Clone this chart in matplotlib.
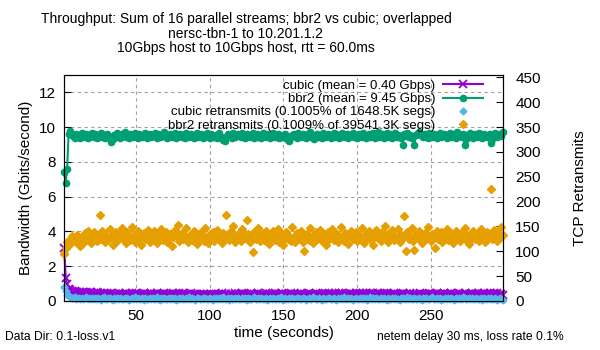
import matplotlib
matplotlib.use("Agg")
import matplotlib.pyplot as plt
from matplotlib.lines import Line2D

plt.rcParams['font.family'] = ['Liberation Sans', 'DejaVu Sans']

# time axis (seconds)
t = list(range(1, 300))

bbr2_gbps = [
    7.4, 6.8, 7.6, 9.6, 9.75, 9.55, 9.5, 9.4, 9.6, 9.45, 9.55, 9.4, 9.65, 9.5, 9.45, 9.6, 9.4, 9.55, 9.5, 9.65,
    9.45, 9.6, 9.4, 9.55, 9.5, 9.65, 9.45, 9.55, 9.4, 9.6, 9.5, 9.35, 9.15, 9.3, 9.55, 9.45, 9.65, 9.5, 9.4, 9.6,
    9.5, 9.7, 9.45, 9.55, 9.4, 9.6, 9.5, 9.45, 9.65, 9.55, 9.4, 9.6, 9.5, 9.45, 9.55, 9.65, 9.4, 9.5, 9.6, 9.45,
    9.55, 9.5, 9.65, 9.4, 9.6, 9.45, 9.55, 9.5, 9.7, 9.45, 9.35, 9.55, 9.6, 9.45, 9.5, 9.65, 9.4, 9.55, 9.5, 9.6,
    9.45, 9.55, 9.4, 9.65, 9.5, 9.45, 9.6, 9.55, 9.4, 9.5, 9.65, 9.45, 9.55, 9.6, 9.4, 9.5, 9.45, 9.65, 9.55, 9.4,
    9.6, 9.5, 9.45, 9.55, 9.4, 9.65, 9.5, 9.35, 9.25, 9.2, 9.45, 9.6, 9.5, 9.55, 9.4, 9.65, 9.45, 9.5, 9.6, 9.55,
    9.45, 9.65, 9.5, 9.4, 9.6, 9.55, 9.45, 9.5, 9.65, 9.4, 9.55, 9.6, 9.45, 9.5, 9.4, 9.65, 9.55, 9.45, 9.6, 9.5,
    9.4, 9.55, 9.65, 9.45, 9.5, 9.6, 9.4, 9.55, 9.5, 9.45, 9.6, 9.35, 9.25, 9.2, 9.45, 9.55, 9.6, 9.5, 9.4, 9.65,
    9.5, 9.45, 9.6, 9.55, 9.4, 9.5, 9.65, 9.7, 9.45, 9.55, 9.3, 9.5, 9.6, 9.45, 9.55, 9.4, 9.65, 9.5, 9.45, 9.6,
    9.55, 9.4, 9.5, 9.65, 9.45, 9.6, 9.5, 9.4, 9.55, 9.65, 9.45, 9.5, 9.6, 9.4, 9.55, 9.5, 9.65, 9.45, 9.55, 9.4,
    9.6, 9.5, 9.45, 9.65, 9.55, 9.4, 9.5, 9.6, 9.45, 9.55, 9.65, 9.4, 9.5, 9.7, 9.45, 9.55, 9.6, 9.4, 9.5, 9.65,
    9.45, 9.55, 9.6, 9.4, 9.5, 9.65, 9.45, 9.55, 9.5, 9.4, 8.95, 9.6, 9.5, 9.65, 9.45, 9.55, 9.4, 9.5, 8.95, 9.55,
    9.6, 9.7, 9.65, 9.5, 9.45, 9.6, 9.55, 9.4, 9.65, 9.5, 9.45, 9.6, 9.55, 9.4, 9.5, 9.65, 9.45, 9.55, 9.6, 9.5,
    9.4, 9.55, 9.65, 9.45, 9.5, 9.6, 9.4, 9.7, 9.55, 9.5, 9.45, 9.6, 8.95, 9.3, 9.55, 9.45, 9.65, 9.5, 9.4, 9.6,
    9.5, 9.45, 9.65, 9.55, 9.4, 9.6, 9.5, 9.45, 9.55, 9.6, 9.1, 9.3, 9.5, 9.65, 9.45, 9.55, 9.6, 9.5, 9.7,
]

cubic_gbps = [
    3.05, 1.35, 0.95, 0.7, 0.62, 0.55, 0.5, 0.56, 0.46, 0.52, 0.45, 0.53, 0.44, 0.5, 0.42, 0.49, 0.44, 0.48, 0.51, 0.43,
    0.47, 0.42, 0.5, 0.44, 0.4, 0.48, 0.43, 0.46, 0.4, 0.47, 0.41, 0.38, 0.44, 0.37, 0.43, 0.4, 0.36, 0.45, 0.39, 0.42,
    0.42, 0.36, 0.44, 0.39, 0.35, 0.41, 0.46, 0.37, 0.4, 0.44, 0.35, 0.42, 0.38, 0.4, 0.45, 0.36, 0.43, 0.35, 0.39, 0.44,
    0.37, 0.42, 0.4, 0.46, 0.35, 0.39, 0.43, 0.37, 0.45, 0.4, 0.34, 0.42, 0.39, 0.36, 0.44, 0.41, 0.35, 0.4, 0.46, 0.37,
    0.4, 0.44, 0.35, 0.42, 0.37, 0.4, 0.45, 0.34, 0.42, 0.39, 0.36, 0.34, 0.41, 0.35, 0.38, 0.43, 0.35, 0.4, 0.37, 0.35,
    0.41, 0.35, 0.38, 0.43, 0.34, 0.4, 0.37, 0.44, 0.35, 0.39, 0.42, 0.37, 0.35, 0.43, 0.4, 0.36, 0.45, 0.35, 0.39, 0.42,
    0.37, 0.44, 0.4, 0.35, 0.43, 0.37, 0.4, 0.46, 0.36, 0.42, 0.35, 0.39, 0.44, 0.37, 0.42, 0.4, 0.35, 0.44, 0.37, 0.4,
    0.43, 0.35, 0.4, 0.45, 0.37, 0.42, 0.39, 0.35, 0.44, 0.4, 0.36, 0.42, 0.35, 0.39, 0.45, 0.37, 0.43, 0.4, 0.35, 0.42,
    0.39, 0.44, 0.36, 0.42, 0.35, 0.4, 0.46, 0.37, 0.43, 0.39, 0.35, 0.44, 0.4, 0.36, 0.42, 0.35, 0.4, 0.45, 0.37, 0.42,
    0.44, 0.37, 0.42, 0.4, 0.47, 0.36, 0.42, 0.46, 0.39, 0.44, 0.37, 0.42, 0.4, 0.35, 0.45, 0.39, 0.42, 0.37, 0.46, 0.4,
    0.42, 0.46, 0.37, 0.44, 0.39, 0.47, 0.41, 0.36, 0.44, 0.4, 0.46, 0.42, 0.37, 0.44, 0.39, 0.35, 0.42, 0.46, 0.39, 0.44,
    0.37, 0.42, 0.4, 0.35, 0.44, 0.39, 0.36, 0.42, 0.35, 0.4, 0.45, 0.37, 0.42, 0.4, 0.35, 0.44, 0.37, 0.42, 0.4, 0.35,
    0.42, 0.37, 0.45, 0.4, 0.35, 0.42, 0.39, 0.37, 0.44, 0.4, 0.42, 0.35, 0.4, 0.45, 0.37, 0.42, 0.39, 0.35, 0.44, 0.4,
    0.37, 0.42, 0.4, 0.46, 0.36, 0.42, 0.39, 0.35, 0.44, 0.4, 0.37, 0.42, 0.46, 0.39, 0.35, 0.42, 0.37, 0.44, 0.4, 0.42,
    0.39, 0.44, 0.37, 0.42, 0.4, 0.46, 0.37, 0.42, 0.39, 0.44, 0.37, 0.42, 0.46, 0.39, 0.44, 0.36, 0.42, 0.4, 0.35,
]

cubic_retrans = [
    28, 20, 13, 10, 8, 7, 6, 8, 5, 7, 6, 4, 7, 5, 6, 8, 4, 6, 5, 7,
    5, 6, 4, 7, 5, 3, 6, 8, 5, 4, 6, 7, 5, 3, 6, 5, 7, 4, 6, 5,
    4, 6, 5, 7, 3, 5, 6, 4, 8, 5, 6, 4, 5, 7, 3, 6, 5, 4, 7, 5,
    6, 4, 5, 8, 5, 3, 6, 5, 7, 4, 5, 6, 4, 7, 5, 6, 3, 5, 6, 4,
    7, 5, 4, 6, 5, 8, 4, 6, 5, 3, 6, 7, 5, 4, 6, 5, 7, 4, 5, 6,
    5, 3, 6, 5, 7, 4, 6, 5, 8, 4, 5, 6, 3, 7, 5, 4, 6, 5, 7, 5,
    4, 6, 5, 7, 3, 6, 5, 4, 6, 8, 5, 4, 6, 5, 7, 4, 5, 6, 3, 5,
    6, 5, 7, 4, 5, 6, 4, 8, 5, 3, 6, 5, 4, 7, 5, 6, 4, 5, 7, 6,
    5, 4, 6, 7, 3, 5, 6, 4, 5, 8, 6, 4, 5, 7, 5, 3, 6, 5, 4, 6,
    7, 5, 4, 6, 5, 3, 7, 5, 6, 4, 8, 5, 4, 6, 5, 7, 3, 5, 6, 4,
    5, 6, 4, 7, 5, 6, 3, 5, 8, 4, 6, 5, 7, 4, 5, 6, 4, 7, 5, 3,
    6, 5, 4, 7, 5, 6, 4, 5, 3, 6, 7, 5, 4, 8, 5, 6, 4, 5, 7, 5,
    4, 6, 5, 3, 7, 5, 6, 4, 5, 6, 8, 4, 5, 7, 5, 6, 3, 5, 4, 6,
    5, 7, 4, 6, 5, 3, 6, 5, 7, 4, 5, 9, 6, 4, 5, 7, 5, 6, 4, 5,
    6, 4, 5, 7, 3, 6, 5, 4, 6, 5, 7, 4, 5, 6, 3, 5, 7, 4, 3,
]

bbr2_retrans = [
    95, 106, 118, 112, 125, 130, 121, 127, 119, 133, 126, 110, 114, 129, 136, 122, 140, 131, 117, 124,
    138, 127, 120, 133, 174, 125, 141, 136, 118, 129, 123, 144, 131, 112, 126, 139, 121, 134, 128, 146,
    124, 132, 117, 139, 127, 122, 148, 130, 119, 135, 141, 126, 113, 131, 137, 124, 129, 143, 118, 133,
    127, 140, 122, 116, 134, 129, 145, 123, 131, 138, 119, 127, 135, 110, 128, 142, 133, 152, 121, 126,
    137, 124, 130, 146, 118, 129, 135, 122, 140, 127, 114, 133, 125, 139, 130, 121, 147, 128, 116, 134,
    126, 139, 120, 131, 143, 124, 129, 117, 136, 127, 174, 133, 122, 140, 128, 151, 119, 131, 125, 137,
    121, 144, 130, 126, 164, 135, 118, 128, 98, 138, 125, 132, 147, 120, 129, 136, 123, 141, 127, 114,
    133, 126, 140, 122, 130, 145, 119, 128, 134, 112, 127, 139, 125, 131, 121, 148, 129, 118, 136, 124,
    130, 141, 119, 100, 127, 135, 123, 146, 129, 116, 132, 138, 124, 130, 142, 120, 127, 134, 113, 139,
    125, 131, 144, 122, 128, 136, 118, 130, 149, 126, 121, 137, 129, 115, 133, 141, 124, 128, 138, 120,
    132, 127, 146, 123, 117, 135, 129, 140, 124, 131, 112, 128, 143, 126, 134, 121, 138, 130, 151, 125,
    119, 136, 128, 142, 122, 131, 126, 145, 118, 133, 127, 172, 100, 139, 124, 130, 147, 121, 102, 134,
    128, 140, 123, 116, 132, 137, 125, 149, 129, 120, 135, 127, 106, 141, 124, 131, 138, 119, 133, 126,
    144, 122, 130, 136, 117, 128, 141, 125, 133, 120, 138, 129, 146, 123, 131, 114, 135, 127, 140, 124,
    130, 137, 121, 145, 128, 133, 118, 139, 126, 131, 226, 124, 142, 129, 120, 136, 127, 148, 132,
]

labels = ["cubic (mean = 0.40 Gbps)", "bbr2 (mean = 9.45 Gbps)",
          "cubic retransmits (0.1005% of 1648.5K segs)",
          "bbr2 retransmits (0.1009% of 39541.3K segs)"]

PURPLE = '#9400d3'
GREEN = '#009e73'
BLUE = '#56b4e9'
ORANGE = '#e69f00'

fig = plt.figure(figsize=(6, 3.5), dpi=100)
ax = fig.add_axes([0.107, 0.14, 0.731, 0.646])
ax2 = ax.twinx()

ax.plot(t, cubic_gbps, color=PURPLE, marker='x', ms=6, mew=1.3, lw=1.5, clip_on=False)
ax.plot(t, bbr2_gbps, color=GREEN, marker='o', ms=4.5, lw=1.5, clip_on=False)
ax2.plot(t, cubic_retrans, ls='none', color=BLUE, marker='D', ms=3.5, clip_on=False)
ax2.plot(t, bbr2_retrans, ls='none', color=ORANGE, marker='D', ms=3.8, clip_on=False)

ax.set_xlim(1, 299)
ax.set_ylim(0, 13)
ax2.set_ylim(0, 455)
ax.set_xticks([50, 100, 150, 200, 250])
ax.set_yticks(range(0, 13, 2))
ax2.set_yticks(range(0, 451, 50))

ax.grid(True, color='#a0a0a0', ls=(0, (3, 3)), lw=0.8)
ax.set_axisbelow(True)
ax.tick_params(direction='in', length=5, labelsize=11, pad=6, top=False, right=False)
ax2.tick_params(direction='in', length=5, labelsize=11, pad=9)

ax.set_xlabel("time (seconds)", fontsize=11, labelpad=2)
ax.set_ylabel("Bandwidth (Gbits/second)", fontsize=11, labelpad=4)
ax2.set_ylabel("TCP Retransmits", fontsize=11, labelpad=23)

fig.text(0.41, 0.965, "Throughput: Sum of 16 parallel streams; bbr2 vs cubic; overlapped\n"
         "nersc-tbn-1 to 10.201.1.2\n10Gbps host to 10Gbps host, rtt = 60.0ms",
         ha='center', va='top', fontsize=10, linespacing=1.05)
fig.text(0.008, 0.02, "Data Dir: 0.1-loss.v1", fontsize=8.7, ha='left', va='bottom')
fig.text(0.94, 0.02, "netem delay 30 ms, loss rate 0.1%", fontsize=8.7, ha='right', va='bottom')

handles = [
    Line2D([], [], color=PURPLE, marker='x', ms=6, mew=1.3, lw=1.5),
    Line2D([], [], color=GREEN, marker='o', ms=4.5, lw=1.5),
    Line2D([], [], color=BLUE, marker='D', ms=3.5, ls='none'),
    Line2D([], [], color=ORANGE, marker='D', ms=3.8, ls='none'),
]
ax2.legend(handles, labels, loc='upper right', bbox_to_anchor=(0.975, 1.02),
           frameon=False, markerfirst=False, fontsize=9.5, handlelength=3,
           labelspacing=0.08, borderpad=0.2, handletextpad=0.6)

fig.savefig("out.png", dpi=100)
